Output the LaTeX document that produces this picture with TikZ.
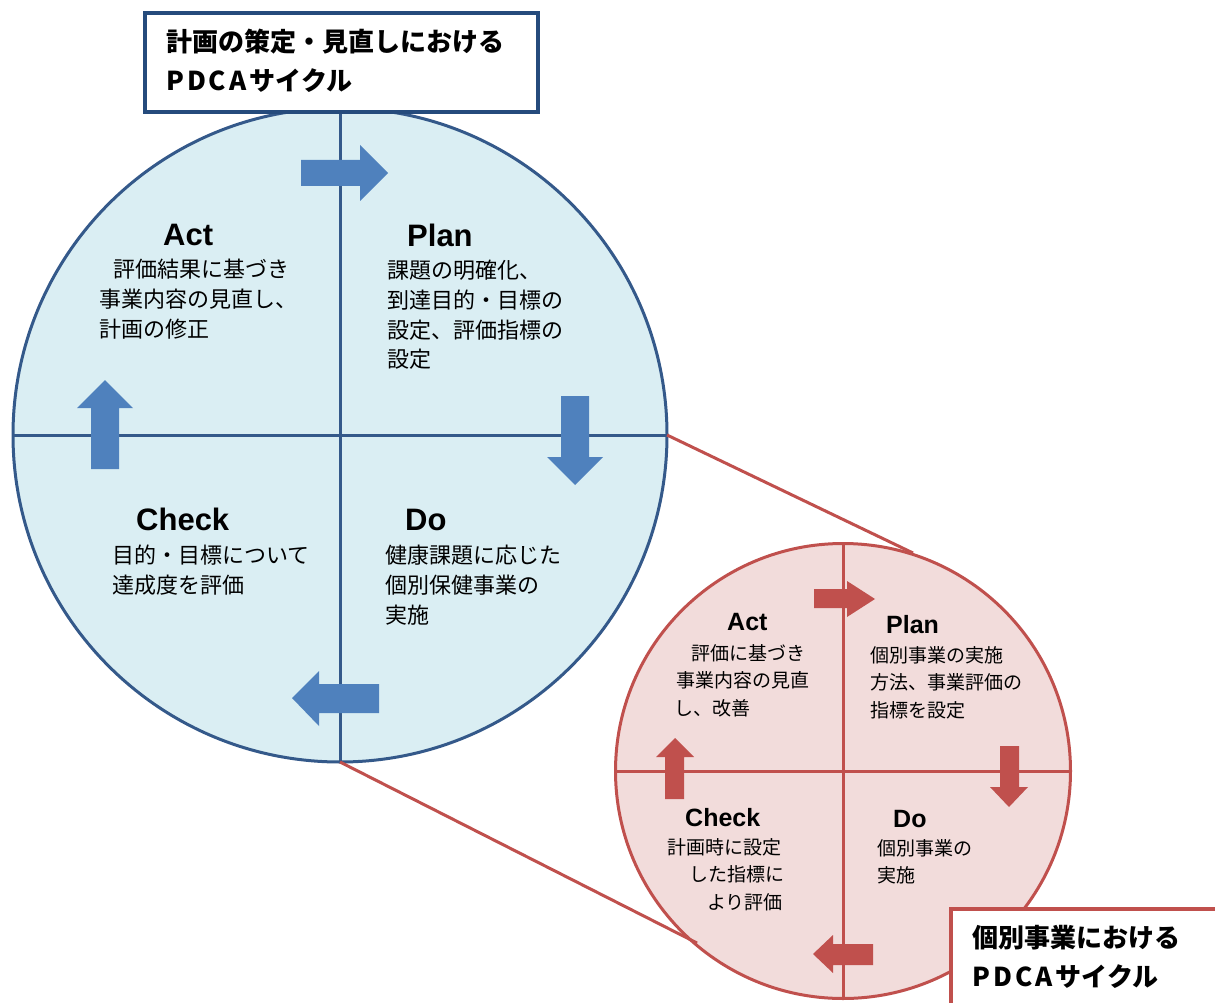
\documentclass[tikz,border=0pt]{standalone}
\usepackage{fontspec}
\newfontfamily\jp{Noto Sans CJK JP}
\newfontfamily\hd{Liberation Sans}
\definecolor{bigfill}{HTML}{DAEEF3}
\definecolor{bigline}{HTML}{34598A}
\definecolor{bigarrow}{HTML}{4F81BD}
\definecolor{boxblue}{HTML}{254B7C}
\definecolor{smallfill}{HTML}{F2DCDB}
\definecolor{smallline}{HTML}{C0504D}
\newcommand{\pdcaword}{P\kern3pt D\kern3pt C\kern3pt A\kern3pt}
\begin{document}
\begin{tikzpicture}[x=1pt,y=-1pt,
  bigcirc/.style={circle, draw=bigline, fill=bigfill, line width=3pt, minimum size=654pt, inner sep=0pt, outer sep=0pt},
  smallcirc/.style={circle, draw=smallline, fill=smallfill, line width=3pt, minimum size=455pt, inner sep=0pt, outer sep=0pt},
  bigq/.style={draw=bigline, line width=3pt},
  smallq/.style={draw=smallline, line width=3pt},
  bluearrow/.style={fill=bigarrow},
  redarrow/.style={fill=smallline},
  link/.style={draw=smallline, line width=3pt},
  bighead/.style={anchor=base west, inner sep=0pt, font=\hd\bfseries\fontsize{31}{31}\selectfont},
  smallhead/.style={anchor=base west, inner sep=0pt, font=\hd\bfseries\fontsize{25}{25}\selectfont},
  bigbody/.style={anchor=north west, inner sep=0pt, align=left, font=\jp\fontsize{22}{29.7}\selectfont},
  smallbody/.style={anchor=north west, inner sep=0pt, align=left, font=\jp\fontsize{19}{27.8}\selectfont},
  titletext/.style={anchor=north west, inner sep=0pt, align=left, font=\jp\bfseries\fontsize{26}{39}\selectfont},
  titlebox/.style={draw, fill=white, line width=4pt, inner sep=0pt, outer sep=0pt, anchor=north west}
]
\useasboundingbox (0,0) rectangle (1215,1003);
\fill[white] (0,0) rectangle (1215,1003);

% ---- big circle ----
\node[bigcirc] (big) at (340,435) {};
\draw[bigq] (big.north) -- (big.south);
\draw[bigq] (big.west) -- (big.east);

\fill[bluearrow] (301,160) -- (360,160) -- (360,145) -- (388,173) -- (360,201) -- (360,186) -- (301,186) -- cycle;
\fill[bluearrow] (561,396) -- (589,396) -- (589,457) -- (603,457) -- (575,485) -- (547,457) -- (561,457) -- cycle;
\fill[bluearrow] (91,469) -- (91,408) -- (77,408) -- (105,380) -- (133,408) -- (119,408) -- (119,469) -- cycle;
\fill[bluearrow] (379,684) -- (319,684) -- (319,671) -- (292,698) -- (319,726) -- (319,713) -- (379,713) -- cycle;

\node[bighead] (bact) at (163,245) {Act};
\node[bighead] (bplan) at (407,246) {Plan};
\node[bighead] (bcheck) at (136,530) {Check};
\node[bighead] (bdo) at (405,530) {Do};

\node[bigbody] (bactt) at (99,259) {\hspace*{14pt}評価結果に基づき\\事業内容の見直し、\\計画の修正};
\node[bigbody] (bplant) at (387,260) {課題の明確化、\\到達目的・目標の\\設定、評価指標の\\設定};
\node[bigbody] (bcheckt) at (112,545) {目的・目標について\\達成度を評価};
\node[bigbody] (bdot) at (385,545) {健康課題に応じた\\個別保健事業の\\実施};

% ---- small circle ----
\node[smallcirc] (small) at (843,771) {};
\draw[smallq] (small.north) -- (small.south);
\draw[smallq] (small.west) -- (small.east);

\coordinate (e1) at (913,553);
\coordinate (e2) at (697,943);
\draw[link] (big.east) -- (e1);
\draw[link] (big.south) -- (e2);

\fill[redarrow] (814,589) -- (847,589) -- (847,581) -- (875,599) -- (847,617) -- (847,608) -- (814,608) -- cycle;
\fill[redarrow] (1000,746) -- (1019,746) -- (1019,787) -- (1028,787) -- (1009,807) -- (990,787) -- (1000,787) -- cycle;
\fill[redarrow] (665,799) -- (665,757) -- (656,757) -- (675,738) -- (694,757) -- (684,757) -- (684,799) -- cycle;
\fill[redarrow] (873,944) -- (833,944) -- (833,935) -- (813,954) -- (833,973) -- (833,965) -- (873,965) -- cycle;

\node[smallhead] (sact) at (727,630) {Act};
\node[smallhead] (splan) at (886,633) {Plan};
\node[smallhead] (scheck) at (685,826) {Check};
\node[smallhead] (sdo) at (893,827) {Do};

\node[smallbody] (sactt) at (674,644) {\hspace*{17pt}評価に基づき\\\hspace*{2pt}事業内容の見直\\し、改善};
\node[smallbody] (splant) at (870,646) {個別事業の実施\\方法、事業評価の\\指標を設定};
\node[smallbody] (scheckt) at (667,838) {計画時に設定\\\hspace*{22pt}した指標に\\\hspace*{40pt}より評価};
\node[smallbody] (sdot) at (877,839) {個別事業の\\実施};

% ---- title boxes ----
\node[titlebox, draw=boxblue, minimum width=393pt, minimum height=99pt] (tbox1) at (145,13) {};
\node[titletext] (ttl1) at (166,29) {計画の策定・見直しにおける\\\pdcaword サイクル};
\node[titlebox, draw=smallline, minimum width=300pt, minimum height=130pt] (tbox2) at (951,909) {};
\node[titletext] (ttl2) at (972,925) {個別事業における\\\pdcaword サイクル};
\end{tikzpicture}
\end{document}
